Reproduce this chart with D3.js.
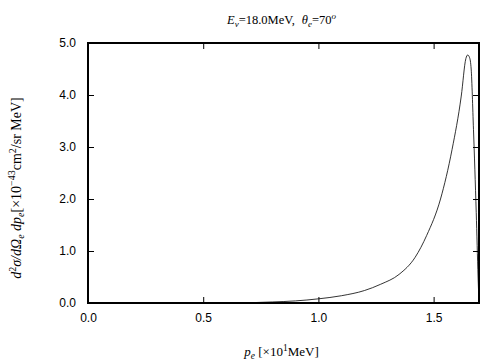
<!DOCTYPE html>
<html>
<head>
<meta charset="utf-8">
<script src="https://cdn.jsdelivr.net/npm/d3@7"></script>
<style>
body { margin: 0; background: #fff; }
text { fill: #000; }
</style>
</head>
<body>
<div id="chart"></div>
<script>
const width = 504, height = 360;
const margin = { top: 43, right: 25, bottom: 57, left: 88 };
const w = width - margin.left - margin.right;
const h = height - margin.top - margin.bottom;

// curve
const pe = [0.63, 0.7, 0.8, 0.9, 1.0, 1.1, 1.2, 1.27, 1.35, 1.42, 1.47, 1.53, 1.58, 1.62, 1.64, 1.648, 1.656, 1.663, 1.673, 1.685, 1.693, 1.697];
const xs = [0.0, 0.005, 0.02, 0.04, 0.08, 0.14, 0.24, 0.36, 0.55, 0.88, 1.3, 2.0, 2.95, 3.98, 4.7, 4.77, 4.72, 4.5, 3.34, 1.74, 0.5, 0.0];
const xTicks = [0.0, 0.5, 1.0, 1.5];
const yTicks = [0.0, 1.0, 2.0, 3.0, 4.0, 5.0];

const svg = d3.select("#chart").append("svg")
    .attr("width", width)
    .attr("height", height)
    .append("g")
    .attr("transform", "translate(" + margin.left + "," + margin.top + ")");

const x = d3.scaleLinear().domain([0, 1.697]).range([0, w]);
const y = d3.scaleLinear().domain([0, 5]).range([h, 0]);

// ticks on all four sides, pointing inward
svg.append("g")
    .attr("transform", "translate(0," + h + ")")
    .call(d3.axisBottom(x).tickValues(xTicks).tickSize(-6).tickPadding(10).tickFormat(d3.format(".1f")));
svg.append("g")
    .call(d3.axisTop(x).tickValues(xTicks).tickSize(-6).tickFormat(""));
svg.append("g")
    .call(d3.axisLeft(y).tickValues(yTicks).tickSize(-6).tickPadding(12).tickFormat(d3.format(".1f")));
svg.append("g")
    .attr("transform", "translate(" + w + ",0)")
    .call(d3.axisRight(y).tickValues(yTicks).tickSize(-6).tickFormat(""));

svg.selectAll(".domain").remove();
svg.selectAll(".tick line").attr("stroke", "#000").attr("stroke-width", 1);
svg.selectAll(".tick text")
    .style("font-family", "'Liberation Sans', Arial, sans-serif")
    .style("font-size", "12px");

svg.append("rect")
    .attr("width", w).attr("height", h)
    .attr("fill", "none").attr("stroke", "#000").attr("stroke-width", 2);

const data = pe.map((d, i) => ({ p: d, v: xs[i] }));
svg.append("path")
    .datum(data)
    .attr("fill", "none")
    .attr("stroke", "#000")
    .attr("stroke-width", 0.8)
    .attr("d", d3.line()
        .x(d => x(d.p))
        .y(d => y(d.v))
        .curve(d3.curveMonotoneX));

const serif = "'Liberation Serif', 'Times New Roman', serif";

// title
const title = svg.append("text")
    .attr("x", w / 2 - 2).attr("y", -19)
    .attr("text-anchor", "middle")
    .style("font-family", serif).style("font-size", "12.5px");
title.append("tspan").style("font-style", "italic").text("E");
title.append("tspan").style("font-style", "italic").style("font-size", "9px").attr("dy", 3).text("ν");
title.append("tspan").attr("dy", -3).text("=18.0MeV,");
title.append("tspan").style("font-style", "italic").attr("dx", 7).text("θ");
title.append("tspan").style("font-style", "italic").style("font-size", "9px").attr("dy", 3).text("e");
title.append("tspan").attr("dy", -3).text("=70");
title.append("tspan").style("font-style", "italic").style("font-size", "9px").attr("dy", -5).text("o");

// x label
const xl = svg.append("text")
    .attr("x", w / 2 - 2).attr("y", h + 53)
    .attr("text-anchor", "middle")
    .style("font-family", serif).style("font-size", "13px");
xl.append("tspan").style("font-style", "italic").text("p");
xl.append("tspan").style("font-style", "italic").style("font-size", "9.5px").attr("dy", 3).text("e");
xl.append("tspan").attr("dy", -3).text(" [×10");
xl.append("tspan").style("font-size", "9.5px").attr("dy", -5).text("1");
xl.append("tspan").attr("dy", 5).text("MeV]");

// y label
const yl = svg.append("text")
    .attr("transform", "translate(" + (-67) + "," + 145 + ") rotate(-90)")
    .attr("text-anchor", "middle")
    .style("font-family", serif).style("font-size", "14px");
yl.append("tspan").style("font-style", "italic").text("d");
yl.append("tspan").style("font-size", "10px").attr("dy", -5).text("2");
yl.append("tspan").style("font-style", "italic").attr("dy", 5).text("σ/dΩ");
yl.append("tspan").style("font-style", "italic").style("font-size", "10px").attr("dy", 3).text("e");
yl.append("tspan").style("font-style", "italic").attr("dy", -3).text(" dp");
yl.append("tspan").style("font-style", "italic").style("font-size", "10px").attr("dy", 3).text("e");
yl.append("tspan").attr("dy", -3).text("[×10");
yl.append("tspan").style("font-size", "10px").attr("dy", -6).text("−43");
yl.append("tspan").attr("dy", 6).text("cm");
yl.append("tspan").style("font-size", "10px").attr("dy", -5).text("2");
yl.append("tspan").attr("dy", 5).text("/sr MeV]");
</script>
</body>
</html>
